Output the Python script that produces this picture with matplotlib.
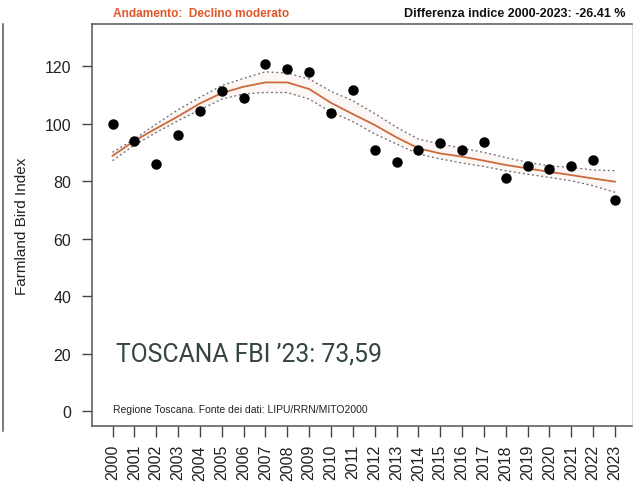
import numpy as np
import matplotlib
matplotlib.use('Agg')
import matplotlib.pyplot as plt
from matplotlib.lines import Line2D

# anni e indice FBI (punti osservati)
years = list(range(2000, 2024))
fbi = [99.9, 93.9, 85.8, 96.1, 104.2, 111.2, 108.8, 120.6, 118.8, 118.0, 103.8, 111.8,
       90.8, 86.6, 90.7, 93.2, 90.7, 93.6, 81.2, 85.1, 84.3, 85.2, 87.4, 73.59]

# trend e limiti di confidenza
trend = [88.8, 94.0, 98.3, 102.5, 107.0, 110.6, 112.8, 114.3, 114.3, 112.0, 107.2, 103.3,
         99.5, 95.2, 91.4, 89.6, 88.5, 87.1, 85.6, 84.4, 83.2, 82.1, 80.9, 79.8]
upper = [90.0, 94.6, 99.8, 104.8, 109.1, 113.2, 115.7, 118.0, 117.5, 115.5, 111.2, 107.9,
         103.5, 98.7, 94.6, 92.9, 91.4, 90.0, 88.2, 86.5, 85.3, 84.7, 83.9, 83.6]
lower = [87.1, 92.5, 96.9, 101.0, 104.8, 108.5, 110.3, 110.8, 110.8, 108.5, 104.0, 100.7,
         96.4, 92.9, 89.4, 87.7, 86.3, 85.1, 83.6, 82.4, 81.3, 80.1, 78.4, 76.1]

yticks = [0, 20, 40, 60, 80, 100, 120]

plt.rcParams['font.family'] = ['Liberation Sans', 'DejaVu Sans']

fig = plt.figure(figsize=(6.34, 4.89), dpi=100)
ax = fig.add_axes([0.1451, 0.1268, 0.8525, 0.8221])

ax.fill_between(years, lower, upper, color='#f8e6dc', alpha=0.3, lw=0)
ax.plot(years, upper, ls=(0, (1.5, 2)), color='#70707c', lw=0.95)
ax.plot(years, lower, ls=(0, (1.5, 2)), color='#70707c', lw=0.95)
ax.plot(years, trend, color='#cc6a3e', lw=1.3)
ax.plot(years, fbi, 'o', color='black', ms=6.5)

ax.set_xlim(1999.06, 2023.8)
ax.set_ylim(-5.1, 134.6)
ax.set_yticks(yticks)
ax.set_xticks(years)
ax.set_xticklabels([str(y) for y in years], rotation=90, fontsize=11.5, color='#222222')
ax.tick_params(axis='y', labelsize=11.5, length=7, width=1, colors='#444444', labelcolor='#222222', pad=8)
ax.tick_params(axis='x', length=8, width=1, colors='#444444', labelcolor='#222222', pad=5)
for s in ['left', 'top', 'bottom']:
    ax.spines[s].set_color('#555555')
    ax.spines[s].set_linewidth(1.1)
ax.spines['right'].set_color('#dddddd')

ax.set_ylabel('Farmland Bird Index', fontsize=11, color='#222222')
ax.yaxis.set_label_coords(-0.1166, 0.5)

# testi sopra il grafico
fig.text(0.178, 0.972, 'Andamento:  Declino moderato', color='#e0562a', fontsize=8.6,
         fontweight='bold', family=['Liberation Sans Narrow', 'Liberation Sans'], va='center')
fig.text(0.638, 0.972, 'Differenza indice 2000-2023: -26.41 %', color='#111111', fontsize=9,
         fontweight='bold', family=['Liberation Sans Narrow', 'Liberation Sans'], va='center')

ax.text(2000.15, 20, 'TOSCANA FBI \u201923: 73,59', fontsize=17.8, color='#34463f',
        family=['Roboto', 'DejaVu Sans'], va='center')
ax.text(2000.0, 0.8, 'Regione Toscana. Fonte dei dati: LIPU/RRN/MITO2000', fontsize=7.5,
        color='#222222', va='center')

# linea verticale a sinistra (bordo del pannello precedente)
fig.add_artist(Line2D([0.005, 0.005], [1 - 432 / 489, 1 - 25 / 489], color='#555555', lw=1.1))

fig.savefig('out.png', dpi=100)
